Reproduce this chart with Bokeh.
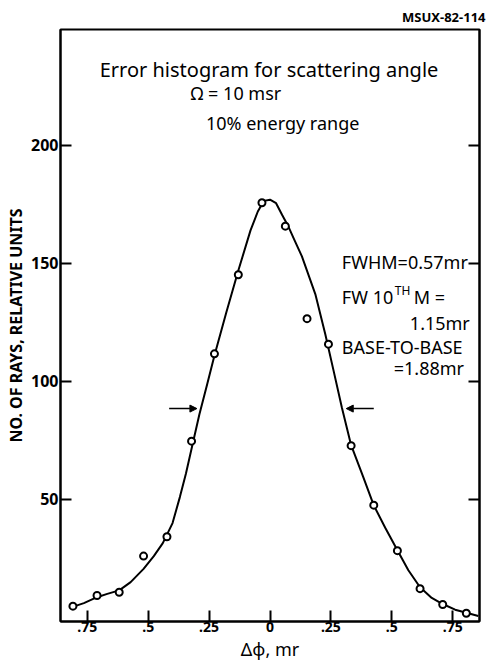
from bokeh.plotting import figure
from bokeh.models import (Label, LinearAxis, FixedTicker, Arrow, NormalHead, Range1d,
                          Title, CustomJSTickFormatter)
from bokeh.embed import file_html
from bokeh.resources import INLINE

# ---- data ----
point_x = [-0.809, -0.710, -0.619, -0.519, -0.423, -0.322, -0.228, -0.130, -0.033,
           0.063, 0.152, 0.240, 0.333, 0.426, 0.523, 0.616, 0.709, 0.806]
point_y = [4.8, 9.3, 10.7, 26.0, 34.2, 74.7, 111.7, 145.2, 175.7,
           165.8, 126.6, 115.8, 72.8, 47.6, 28.3, 12.2, 5.5, 1.8]

curve_x = [-0.810, -0.764, -0.710, -0.668, -0.619, -0.572, -0.519, -0.477, -0.440,
           -0.400, -0.370, -0.345, -0.322, -0.290, -0.260, -0.228, -0.180, -0.130,
           -0.080, -0.050, -0.025, 0.000, 0.025, 0.050, 0.076, 0.100, 0.131, 0.186,
           0.227, 0.260, 0.295, 0.333, 0.381, 0.426, 0.473, 0.523, 0.568, 0.616,
           0.664, 0.709, 0.760, 0.806, 0.855]
curve_y = [4.5, 6.1, 8.6, 10.0, 11.5, 15.0, 20.6, 26.0, 31.5,
           40.0, 51.0, 61.0, 71.5, 86.0, 98.0, 111.0, 129.0, 147.0,
           164.0, 172.0, 176.5, 177.0, 175.5, 170.5, 165.5, 160.0, 153.0, 137.0,
           120.0, 105.0, 89.0, 73.0, 60.0, 47.5, 38.0, 28.5, 20.0, 12.8,
           8.3, 5.7, 3.3, 2.0, 0.6]

x_ticks = [-0.75, -0.5, -0.25, 0, 0.25, 0.5, 0.75]
x_tick_labels = [".75", ".5", ".25", "0", ".25", ".5", ".75"]
y_ticks = [50, 100, 150, 200]
y_tick_labels = ["50", "100", "150", "200"]

# half-maximum arrows (FWHM markers)
half_max = 88.5
left_arrow_x = [-0.414, -0.300]
right_arrow_x = [0.426, 0.313]

FONT = "Noto Sans"
X0, X1 = -0.86, 0.86
Y0, Y1 = -1.7, 249.1

p = figure(width=487, height=662, output_backend="svg", toolbar_location=None,
           x_range=Range1d(X0, X1), y_range=Range1d(Y0, Y1),
           min_border_left=0, min_border_right=8, min_border_top=29,
           min_border_bottom=41, x_axis_location=None, y_axis_location=None)
p.grid.visible = False
p.outline_line_color = "black"
p.outline_line_width = 2
p.background_fill_color = "white"
p.border_fill_color = "white"

# top-right code
p.title.text = "MSUX-82-114"
p.title.align = "right"
p.title.offset = -6
p.title.text_font = FONT
p.title.text_font_size = "13px"
p.title.text_font_style = "bold"
p.title.text_color = "black"
p.title.standoff = 8

# axes
xa = LinearAxis(ticker=FixedTicker(ticks=x_ticks),
                major_label_overrides={t: l for t, l in zip(x_ticks, x_tick_labels)})
ya = LinearAxis(ticker=FixedTicker(ticks=y_ticks),
                major_label_overrides={t: l for t, l in zip(y_ticks, y_tick_labels)})
ra = LinearAxis(ticker=FixedTicker(ticks=y_ticks),
                formatter=CustomJSTickFormatter(code="return ''"))
for ax in (xa, ya, ra):
    ax.major_tick_in = 11
    ax.major_tick_out = 0
    ax.minor_tick_line_color = None
    ax.axis_line_width = 2
    ax.major_tick_line_width = 2
    ax.major_label_text_font = FONT
    ax.major_label_text_font_style = "bold"
    ax.major_label_text_color = "black"
xa.major_label_text_font_size = "14px"
xa.major_label_standoff = 0
ya.major_label_text_font_size = "16px"
ya.major_label_standoff = 2
ra.major_label_standoff = 0
p.add_layout(xa, "below")
p.add_layout(ya, "left")
p.add_layout(ra, "right")

p.add_layout(Title(text="NO. OF RAYS, RELATIVE UNITS", align="center", offset=33,
                   text_font=FONT, text_font_size="16px", text_font_style="bold",
                   text_color="black", standoff=4), "left")
p.add_layout(Title(text="Δϕ, mr", align="center", offset=-12,
                   text_font=FONT, text_font_size="18px", text_font_style="normal",
                   text_color="black", standoff=0), "below")

# curve and points
p.line(curve_x, curve_y, line_color="black", line_width=2)
p.scatter(point_x, point_y, marker="circle", size=7, line_color="black",
          line_width=2, fill_color="white")

# arrows
for xs in (left_arrow_x, right_arrow_x):
    p.add_layout(Arrow(end=NormalHead(size=7, fill_color="black", line_color="black"),
                       x_start=xs[0], y_start=half_max, x_end=xs[1], y_end=half_max,
                       line_width=1.5, line_color="black"))

def lab(x, y, text, size, align="left", style="normal"):
    p.add_layout(Label(x=x, y=y, text=text, text_font=FONT, text_font_size=size,
                       text_align=align, text_baseline="middle", text_color="black",
                       text_font_style=style))

lab(-0.004, 232.2, "Error histogram for scattering angle", "20px", align="center")
lab(-0.14, 222.2, "Ω = 10 msr", "18px", align="center")
lab(0.052, 209.7, "10% energy range", "18px", align="center")

lab(0.295, 150.4, "FWHM=0.57mr", "18px")
lab(0.295, 135.6, "FW 10", "18px")
lab(0.512, 138.5, "TH", "12px")
lab(0.590, 135.6, "M =", "18px")
lab(0.574, 124.6, "1.15mr", "18px")
lab(0.295, 114.4, "BASE-TO-BASE", "18px")
lab(0.508, 105.5, "=1.88mr", "18px")

open("out.html", "w").write(file_html(p, INLINE))
